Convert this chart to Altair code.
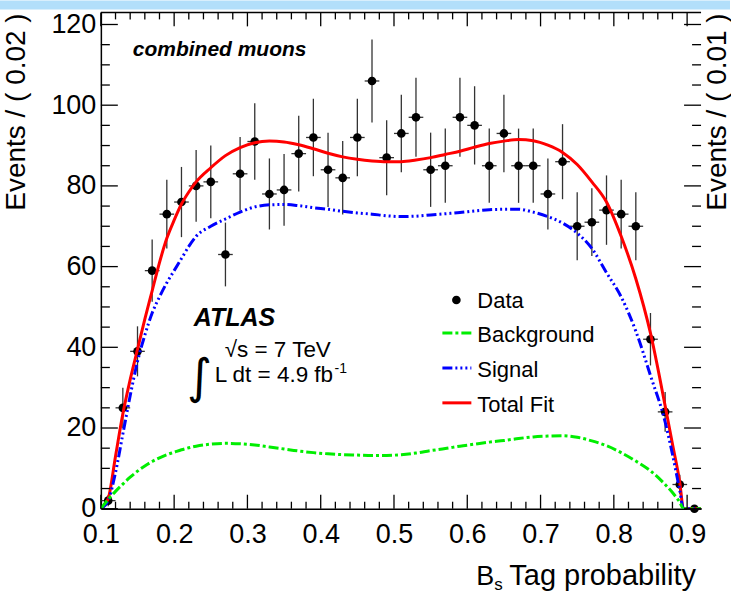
import altair as alt
import pandas as pd

# ---------------- data ----------------
bin_centers = [0.11, 0.13, 0.15, 0.17, 0.19, 0.21, 0.23, 0.25, 0.27, 0.29,
               0.31, 0.33, 0.35, 0.37, 0.39, 0.41, 0.43, 0.45, 0.47, 0.49,
               0.51, 0.53, 0.55, 0.57, 0.59, 0.61, 0.63, 0.65, 0.67, 0.69,
               0.71, 0.73, 0.75, 0.77, 0.79, 0.81, 0.83, 0.85, 0.87, 0.89,
               0.91]
events = [2, 25, 39, 59, 73, 76, 80, 81, 63, 83,
          91, 78, 79, 88, 92, 84, 82, 92, 106, 87,
          93, 97, 84, 85, 97, 95, 85, 93, 85, 85,
          78, 86, 70, 71, 74, 73, 70, 42, 24, 6,
          0]
errors = [1.4, 5.0, 6.2, 7.7, 8.5, 8.7, 8.9, 9.0, 7.9, 9.1,
          9.5, 8.8, 8.9, 9.4, 9.6, 9.2, 9.1, 9.6, 10.3, 9.3,
          9.6, 9.8, 9.2, 9.2, 9.8, 9.7, 9.2, 9.6, 9.2, 9.2,
          8.8, 9.3, 8.4, 8.4, 8.6, 8.5, 8.4, 6.5, 4.9, 2.4,
          0.0]
bin_half_width = 0.01

fit_x = [0.100, 0.110, 0.120, 0.130, 0.140, 0.150, 0.160, 0.170, 0.180, 0.190,
         0.200, 0.210, 0.220, 0.230, 0.250, 0.270, 0.290, 0.310, 0.330, 0.350,
         0.370, 0.390, 0.410, 0.430, 0.450, 0.470, 0.490, 0.510, 0.530, 0.550,
         0.570, 0.590, 0.610, 0.630, 0.650, 0.670, 0.690, 0.710, 0.730, 0.750,
         0.770, 0.790, 0.810, 0.830, 0.850, 0.870, 0.880, 0.890, 0.895, 0.919]
total_fit = [0, 2.5, 13, 23.5, 32, 39.5, 47, 54, 61, 67,
             71.5, 75.5, 78.5, 81, 84.5, 87.5, 89.5, 90.7, 91.1, 90.9,
             90.2, 89.2, 88.1, 87.2, 86.6, 86.2, 86.0, 86.0, 86.4, 87.0,
             87.8, 88.6, 89.6, 90.5, 91.1, 91.5, 91.2, 90.1, 88.3, 85.3,
             81, 76, 67.5, 57, 43.5, 25.5, 16, 6.5, 0, 0]
signal = [0, 2, 9, 18.5, 28, 36.5, 43, 48.5, 52.5, 56,
          59, 62, 65, 67.5, 70, 71.8, 73.5, 74.8, 75.3, 75.4,
          75.1, 74.6, 74.2, 73.7, 73.3, 73.0, 72.6, 72.4, 72.5, 72.8,
          73.1, 73.4, 73.8, 74.1, 74.2, 74.2, 73.5, 72.4, 70.8, 68.3,
          64.5, 58.5, 52.5, 44, 33, 21.5, 13.5, 4.5, 0, 0]
background = [0, 2.3, 4.3, 6.1, 7.8, 9.3, 10.6, 11.7, 12.6, 13.4,
              14.0, 14.6, 15.1, 15.5, 16.0, 16.2, 16.1, 15.8, 15.3, 14.8,
              14.3, 13.9, 13.6, 13.4, 13.3, 13.2, 13.2, 13.4, 13.8, 14.4,
              14.9, 15.5, 16.0, 16.5, 16.9, 17.4, 17.8, 18.0, 18.1, 17.7,
              16.8, 15.6, 13.9, 11.8, 9.4, 6.0, 4.0, 1.6, 0, 0]

x_major = [0.1, 0.2, 0.3, 0.4, 0.5, 0.6, 0.7, 0.8, 0.9]
x_minor = [0.12, 0.14, 0.16, 0.18, 0.22, 0.24, 0.26, 0.28, 0.32, 0.34, 0.36, 0.38,
           0.42, 0.44, 0.46, 0.48, 0.52, 0.54, 0.56, 0.58, 0.62, 0.64, 0.66, 0.68,
           0.72, 0.74, 0.76, 0.78, 0.82, 0.84, 0.86, 0.88]
y_major = [0, 20, 40, 60, 80, 100, 120]
y_minor = [5, 10, 15, 25, 30, 35, 45, 50, 55, 65, 70, 75, 85, 90, 95,
           105, 110, 115]

# ---------------- chart ----------------
W, H = 601, 497
FONT = "Liberation Sans"
xs = alt.Scale(domain=[0.1, 0.919], nice=False, zero=False)
ys = alt.Scale(domain=[0, 123], nice=False, zero=False)

df = pd.DataFrame({"x": bin_centers, "n": events, "e": errors})
df["lo"] = df["n"] - df["e"]
df["hi"] = df["n"] + df["e"]
df["xlo"] = df["x"] - bin_half_width
df["xhi"] = df["x"] + bin_half_width

fits = pd.DataFrame({"x": fit_x, "total": total_fit, "sig": signal, "bkg": background})
one = pd.DataFrame({"a": [0]})

x_axis = alt.Axis(values=x_major, format=".1f", title=None, labelFlush=False,
                  labelOverlap=False, labelPadding=13)
y_axis = alt.Axis(values=y_major, format="d", title=None, labelFlush=False,
                  labelOverlap=False, labelPadding=5)


def X(field):
    return alt.X(field, scale=xs, axis=x_axis)


def Y(field):
    return alt.Y(field, scale=ys, axis=y_axis)


ebar_v = alt.Chart(df).mark_rule(color="#333333", strokeWidth=1.3).encode(
    x=X("x:Q"), y=Y("lo:Q"), y2="hi:Q",
)
ebar_h = alt.Chart(df).mark_rule(color="#333333", strokeWidth=1.3).encode(
    x=X("xlo:Q"), x2="xhi:Q", y=Y("n:Q"),
)
pts = alt.Chart(df).mark_circle(size=75, color="black", opacity=1).encode(
    x=X("x:Q"), y=Y("n:Q"),
)


def curve(col, color, dash=None):
    kw = dict(color=color, strokeWidth=3, interpolate="monotone", clip=True)
    if dash:
        kw["strokeDash"] = dash
    return alt.Chart(fits).mark_line(**kw).encode(x=X("x:Q"), y=Y(col + ":Q"))


red = curve("total", "#ff0000")
blue = curve("sig", "#0000ff", [10, 3, 2, 3, 2, 3, 2, 3])
green = curve("bkg", "#00ee00", [10, 3, 3, 3])


def xticks(vals, y0, y1):
    return alt.Chart(pd.DataFrame({"v": vals})).mark_rule(color="black", strokeWidth=1.3).encode(
        x=X("v:Q"), y=alt.value(y0), y2=alt.value(y1))


def yticks(vals, x0, x1):
    return alt.Chart(pd.DataFrame({"v": vals})).mark_rule(color="black", strokeWidth=1.3).encode(
        y=Y("v:Q"), x=alt.value(x0), x2=alt.value(x1))


ticks = [
    xticks(x_major, H, H - 14), xticks(x_minor, H, H - 7),
    xticks(x_major, 0, 14), xticks(x_minor, 0, 7),
    yticks(y_major, 0, 17), yticks(y_minor, 0, 9),
    yticks(y_major, W - 17, W), yticks(y_minor, W - 9, W),
]

top_line = alt.Chart(one).mark_rule(color="black", strokeWidth=1.5).encode(
    x=alt.value(0), x2=alt.value(W), y=alt.value(0))

band = alt.Chart(one).mark_rect(color="#b2dffa").encode(
    x=alt.value(-101), x2=alt.value(630), y=alt.value(-12), y2=alt.value(-3))


def txt(s, x, y, size, weight="normal", style="normal", align="left",
        baseline="alphabetic", angle=0, font=FONT, color="black"):
    kw = dict(text=s, font=font, fontSize=size, fontWeight=weight, fontStyle=style,
              align=align, baseline=baseline, color=color)
    if angle:
        kw["angle"] = angle
    return alt.Chart(one).mark_text(**kw).encode(x=alt.value(x), y=alt.value(y))


texts = [
    txt("combined muons", 32, 44, 21, weight="bold", style="italic"),
    txt("ATLAS", 93, 314, 25, weight="bold", style="italic"),
    txt("\u221as = 7 TeV", 124, 345, 22.5),
    txt("L dt = 4.9 fb", 114, 370, 22.5),
    txt("-1", 234, 361, 14),
    txt("\u222b", 99, 367, 48, align="center", baseline="middle", font="DejaVu Sans"),
    txt("Events / ( 0.02 )", -76, 1, 28, align="right", angle=270),
    txt("Events / ( 0.01 )", 626, 1, 28, align="right", angle=270),
    txt("B", 376, 573, 27),
    txt("s", 394, 578, 17),
    txt("Tag probability", 409, 573, 29),
    # legend
    txt("Data", 377, 296, 22),
    txt("Background", 377, 330, 22),
    txt("Signal", 377, 365, 22),
    txt("Total Fit", 377, 400, 22),
]

leg_dot = alt.Chart(one).mark_circle(size=75, color="black", opacity=1).encode(
    x=alt.value(356), y=alt.value(288))
leg_bkg = alt.Chart(one).mark_rule(color="#00ee00", strokeWidth=3, strokeDash=[10, 3, 3, 3]).encode(
    x=alt.value(342), x2=alt.value(371), y=alt.value(321))
leg_sig = alt.Chart(one).mark_rule(color="#0000ff", strokeWidth=3,
                                   strokeDash=[10, 3, 2, 3, 2, 3, 2, 3]).encode(
    x=alt.value(342), x2=alt.value(371), y=alt.value(356))
leg_tot = alt.Chart(one).mark_rule(color="#ff0000", strokeWidth=3).encode(
    x=alt.value(342), x2=alt.value(371), y=alt.value(391))

chart = alt.layer(
    ebar_v, ebar_h, pts, red, blue, green, *ticks, top_line, band, *texts,
    leg_dot, leg_bkg, leg_sig, leg_tot,
).properties(
    width=W, height=H,
    autosize=alt.AutoSizeParams(type="none"),
    padding={"left": 101, "top": 12, "right": 30, "bottom": 85},
    background="white",
).configure_view(
    strokeWidth=0,
).configure_axis(
    labelFont=FONT, labelFontSize=27, labelColor="black",
    domainColor="black", domainWidth=1.5, ticks=False, grid=False,
)

chart.save("out.html", embed_options={"renderer": "svg", "actions": False})
